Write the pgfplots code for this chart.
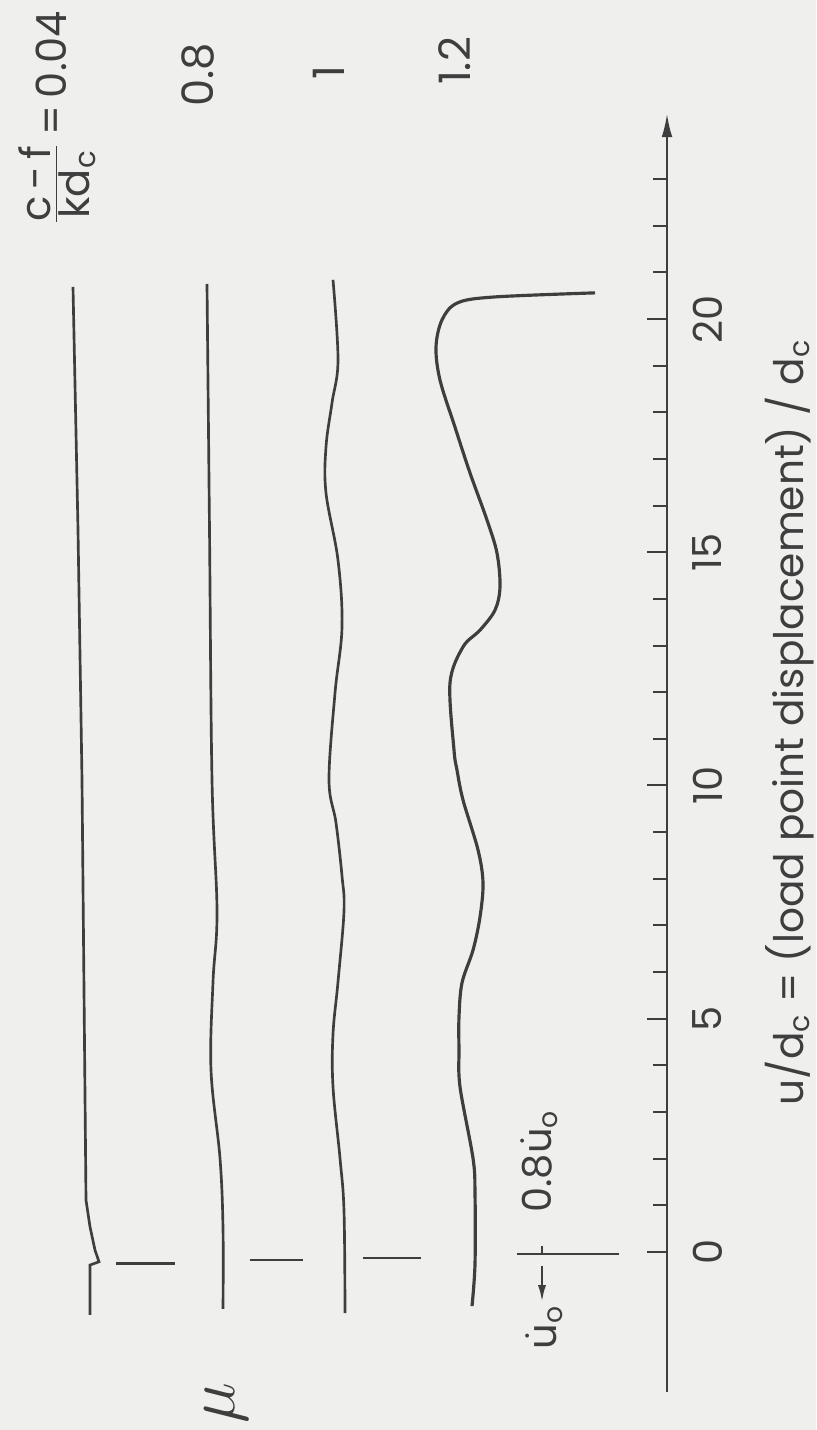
\documentclass[border=0pt]{standalone}
\usepackage{fontspec}
\setmainfont{Poppins}
\usepackage{pgfplots}
\pgfplotsset{compat=1.18}
\usetikzlibrary{arrows.meta}
\definecolor{ink}{RGB}{62,62,62}
\definecolor{paper}{RGB}{239,239,237}

\begin{document}
\begin{tikzpicture}
\begin{axis}[
  scale only axis,
  width=200.1pt, height=383.46pt,
  xmin=0, xmax=667, ymin=-3.0, ymax=24.4,
  axis x line=none,
  axis y line=right,
  axis on top,
  clip=false,
  every outer y axis line/.style={line width=0.6pt, draw=ink, -{Latex[length=7pt,width=3.2pt]}},
  xtick=\empty,
  ytick={0,5,10,15,20},
  yticklabels={0,5,10,15,20},
  minor ytick={1,2,3,4,6,7,8,9,11,12,13,14,16,17,18,19,21,22,23},
  tick align=inside,
  major tick length=6pt, minor tick length=4.2pt,
  every tick/.style={line width=0.6pt, draw=ink},
  yticklabel style={rotate=90, anchor=north, inner sep=0pt, outer sep=7.8pt,
                    font=\fontsize{12}{14}\selectfont, text=ink},
  ylabel={u/d\textsubscript{c} = (load point displacement) / d\textsubscript{c}},
  every axis y label/.style={at={(rel axis cs:1.1844,0.5241)}, rotate=90,
                    anchor=center, inner sep=0pt, font=\fontsize{12.2}{14}\selectfont, text=ink},
]
% paper
\fill[paper] (axis cs:0,26.838) rectangle (axis cs:816,-3.816);

% c-f/kd_c = 0.04
\addplot[ink, line width=0.8pt, sharp plot] coordinates {
 (90,-1.35) (90,-0.28) (99,-0.21) (95,0.04) (90,0.54) (86,1.11)
 (82,10.12) (78,15.48) (73,20.69)};
% 0.8
\addplot[ink, line width=0.8pt, smooth, tension=0.6] coordinates {
 (223,-1.22) (223,0.51) (220,2.01) (211,3.90) (213,5.79) (217,7.31)
 (212,10.12) (209.5,15.48) (207,20.75)};
% 1
\addplot[ink, line width=0.8pt, smooth, tension=0.6] coordinates {
 (345,-1.31) (344,0.88) (340,2.01) (333,3.54) (333,4.67) (338,5.79)
 (344,7.31) (342,8.06) (336,9.20) (329,10.12) (335,11.98) (342,13.40)
 (338,14.83) (326,16.27) (326,17.26) (332,18.20) (338,19.12) (333,20.84)};
% 1.2
\addplot[ink, line width=0.95pt, smooth, tension=0.55] coordinates {
 (472,-1.16) (475,-0.26) (475,1.26) (473,2.01) (460,3.54) (459,4.33)
 (459,5.04) (462,5.77) (473,6.47) (480,7.18) (483,7.91) (478,8.62)
 (463,9.69) (457,10.33) (454,10.76) (450,12.2) (463,12.97) (480,13.33)
 (495,13.76) (500,14.26) (497,14.98) (487,15.69) (470,16.70) (455,17.68)
 (440,18.69) (436,19.40) (442,19.98) (457,20.34) (493,20.47) (595,20.56)};

% scale bars at u = 0
\addplot[ink, line width=0.8pt] coordinates {(116,-0.25) (175,-0.25)};
\addplot[ink, line width=0.8pt] coordinates {(250,-0.17) (303,-0.17)};
\addplot[ink, line width=0.8pt] coordinates {(363,-0.13) (421,-0.13)};
\addplot[ink, line width=0.8pt] coordinates {(517,-0.04) (619,-0.04)};
\addplot[ink, line width=0.8pt] coordinates {(542,0.13) (542,-0.04)};
\addplot[ink, line width=0.7pt, -{Latex[length=5pt,width=2.4pt]}] coordinates {(542,-0.30) (542,-1.07)};

% labels
\node[rotate=90, inner sep=0pt, text=ink, font=\fontsize{12.5}{15}\selectfont] at (axis cs:57,24.30)
  {$\frac{\mbox{c\,-\,f}}{\mbox{kd\textsubscript{c}}}$\,=\,0.04};
\node[rotate=90, inner sep=0pt, text=ink, font=\fontsize{13}{15}\selectfont] at (axis cs:198,25.23) {0.8};
\node[rotate=90, inner sep=0pt, text=ink, font=\fontsize{13}{15}\selectfont] at (axis cs:329,25.29) {1};
\node[rotate=90, inner sep=0pt, text=ink, font=\fontsize{13}{15}\selectfont] at (axis cs:455,25.53) {1.2};
\node[rotate=90, inner sep=0pt, text=ink, font=\fontsize{12}{14}\selectfont] at (axis cs:539,1.95)
  {0.8$\dot{\mbox{u}}$\textsubscript{o}};
\node[rotate=90, inner sep=0pt, text=ink, font=\fontsize{12}{14}\selectfont] at (axis cs:544,-1.61)
  {$\dot{\mbox{u}}$\textsubscript{o}};
\node[rotate=90, inner sep=0pt, text=ink, font=\fontsize{20}{22}\selectfont] at (axis cs:226,-3.24) {$\mu$};
\end{axis}
\end{tikzpicture}
\end{document}
